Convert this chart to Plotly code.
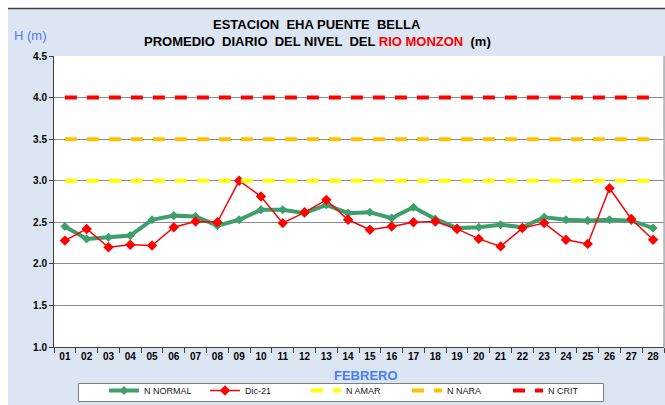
import plotly.graph_objects as go

# Days of February
days = [f"{d:02d}" for d in range(1, 29)]

# Normal daily mean level (m)
n_normal = [2.45, 2.30, 2.32, 2.34, 2.53, 2.58, 2.57, 2.46, 2.53, 2.65,
            2.65, 2.61, 2.71, 2.61, 2.62, 2.55, 2.68, 2.54, 2.43, 2.44,
            2.47, 2.44, 2.56, 2.53, 2.52, 2.53, 2.52, 2.43]

# Daily mean level, Dic-21 series (m)
dic_21 = [2.28, 2.42, 2.20, 2.23, 2.22, 2.44, 2.51, 2.50, 3.00, 2.81,
          2.49, 2.62, 2.77, 2.53, 2.41, 2.45, 2.50, 2.51, 2.42, 2.30,
          2.21, 2.43, 2.49, 2.29, 2.24, 2.91, 2.54, 2.29]

# Alert thresholds (m)
n_amar = 3.0
n_nara = 3.5
n_crit = 4.0

y_ticks = [1.0, 1.5, 2.0, 2.5, 3.0, 3.5, 4.0, 4.5]

FONT = "Liberation Sans, Arial, sans-serif"
BG = "#DCE6F2"
BLUE = "#4A7CF5"

W, H = 665, 405
ML, MR, MT, MB = 54, 1, 56, 58
PW = W - ML - MR
PH = H - MT - MB


def px(x):
    return (x - ML) / PW


def py(y):
    return (H - MB - y) / PH


fig = go.Figure()

fig.add_trace(go.Scatter(
    x=days, y=n_normal, name="N NORMAL", mode="lines+markers",
    line=dict(color="#3E9E6C", width=4),
    marker=dict(symbol="diamond", size=7, color="#3E9E6C"),
))
fig.add_trace(go.Scatter(
    x=days, y=dic_21, name="Dic-21", mode="lines+markers",
    line=dict(color="#FF0000", width=1.5),
    marker=dict(symbol="diamond", size=8, color="#FF0000"),
))
for name, val, col in [("N AMAR", n_amar, "#FFFF00"),
                       ("N NARA", n_nara, "#FFC000"),
                       ("N CRIT", n_crit, "#FF0000")]:
    fig.add_trace(go.Scatter(
        x=[days[0], days[-1]], y=[val, val], name=name, mode="lines",
        line=dict(color=col, width=4, dash="12px,10px"),
    ))

shapes = [
    # white strips outside the chart frame
    dict(type="rect", xref="paper", yref="paper", x0=px(0), x1=px(W),
         y0=py(8), y1=py(0), fillcolor="white", line_width=0, layer="above"),
    dict(type="rect", xref="paper", yref="paper", x0=px(0), x1=px(8),
         y0=py(H), y1=py(0), fillcolor="white", line_width=0, layer="above"),
    dict(type="line", xref="paper", yref="paper", x0=px(8), x1=px(W),
         y0=py(8.5), y1=py(8.5), line=dict(color="#404040", width=1.5)),
    # right border of the plot area
    dict(type="line", xref="paper", yref="paper", x0=1, x1=1, y0=0, y1=1,
         line=dict(color="#8c8c8c", width=1)),
    # legend frame
    dict(type="rect", xref="paper", yref="paper", x0=px(78.5), x1=px(603.5),
         y0=py(401.5), y1=py(383.5), fillcolor="white",
         line=dict(color="#7f7f7f", width=1), layer="above"),
]

annotations = [
    dict(text="<b>ESTACION  EHA PUENTE  BELLA</b>", xref="paper", yref="paper",
         x=px(317), y=py(25), xanchor="center", yanchor="middle",
         showarrow=False, font=dict(family=FONT, size=13, color="black")),
    dict(text="<b>PROMEDIO  DIARIO  DEL NIVEL  DEL "
              "<span style='color:#FF0000'>RIO MONZON</span>  (m)</b>",
         xref="paper", yref="paper", x=px(317), y=py(42),
         xanchor="center", yanchor="middle", showarrow=False,
         font=dict(family=FONT, size=13, color="black")),
    dict(text="H (m)", xref="paper", yref="paper", x=px(31), y=py(35),
         xanchor="center", yanchor="middle", showarrow=False,
         font=dict(family=FONT, size=13, color=BLUE)),
    dict(text="<b>FEBRERO</b>", xref="paper", yref="paper", x=px(366), y=py(375),
         xanchor="center", yanchor="middle", showarrow=False,
         font=dict(family=FONT, size=13, color=BLUE)),
]

fig.update_layout(
    width=W, height=H,
    margin=dict(l=ML, r=MR, t=MT, b=MB, pad=0, autoexpand=False),
    paper_bgcolor=BG, plot_bgcolor="white",
    font=dict(family=FONT, color="black"),
    shapes=shapes, annotations=annotations,
    showlegend=True,
    legend=dict(
        orientation="h", x=px(79), y=py(376), xanchor="left", yanchor="top",
        bgcolor="rgba(0,0,0,0)", borderwidth=0,
        font=dict(family=FONT, size=9, color="#202020"),
        entrywidth=56, entrywidthmode="pixels",
        traceorder="normal", itemsizing="trace",
        title=dict(text="      ", font=dict(size=9)),
        tracegroupgap=0, valign="middle",
    ),
)

fig.update_xaxes(
    type="category", categoryorder="array", categoryarray=days,
    range=[-0.5, 27.5], automargin=False, tickangle=0,
    tickson="boundaries", ticks="outside", ticklen=5, tickcolor="#404040",
    showline=True, linecolor="#404040", linewidth=1,
    showgrid=False, tickfont=dict(family=FONT, size=10, color="black"),
    tickprefix="<b>", ticksuffix="</b>",
)
fig.update_yaxes(
    range=[1.0, 4.5], automargin=False,
    tickvals=y_ticks, ticktext=[f"<b>{v:.1f}</b>" for v in y_ticks],
    ticks="outside", ticklen=4, tickcolor="#404040",
    showline=True, linecolor="#404040", linewidth=1,
    showgrid=True, gridcolor="#8c8c8c", gridwidth=1, zeroline=False,
    tickfont=dict(family=FONT, size=10, color="black"),
)

fig.write_html("out.html")
